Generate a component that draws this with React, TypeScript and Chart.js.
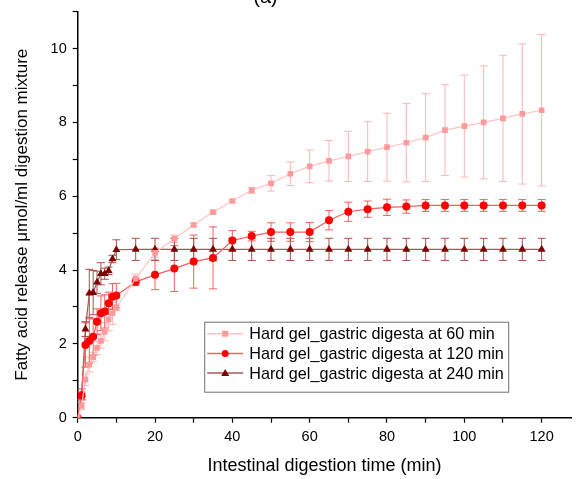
import React, { useEffect, useRef } from "react";
import { Chart, registerables } from "chart.js";

Chart.register(...registerables);

const times = [0, 1, 2, 3, 4, 5, 6, 7, 8, 9, 10, 15, 20, 25, 30, 35, 40, 45, 50, 55, 60, 65, 70, 75, 80, 85, 90, 95, 100, 105, 110, 115, 120];

const labels60 = "Hard gel_gastric digesta at 60 min";
const labels120 = "Hard gel_gastric digesta at 120 min";
const labels240 = "Hard gel_gastric digesta at 240 min";

const mean60 = [0, 0.32, 1.03, 1.44, 1.64, 1.89, 2.08, 2.33, 2.66, 2.83, 2.98, 3.77, 4.47, 4.85, 5.22, 5.57, 5.87, 6.16, 6.35, 6.61, 6.81, 6.96, 7.08, 7.21, 7.33, 7.45, 7.59, 7.79, 7.9, 8.0, 8.11, 8.23, 8.33];
const err60 = [0, 0.1, 0.15, 0.2, 0.12, 0.18, 0.2, 0.25, 0.3, 0.3, 0.08, 0.12, 0.12, 0.1, 0.05, 0.03, 0.03, 0.08, 0.21, 0.32, 0.44, 0.55, 0.68, 0.81, 0.92, 1.06, 1.19, 1.23, 1.38, 1.53, 1.71, 1.9, 2.05];

const mean120 = [0, 0.6, 1.97, 2.08, 2.19, 2.6, 2.83, 2.88, 3.1, 3.28, 3.31, 3.68, 3.87, 4.04, 4.23, 4.33, 4.8, 4.92, 5.03, 5.03, 5.03, 5.35, 5.58, 5.65, 5.7, 5.72, 5.75, 5.75, 5.75, 5.75, 5.75, 5.75, 5.75];
const err120 = [0, 0.1, 0.6, 0.6, 0.5, 0.35, 0.47, 0.45, 0.3, 0.35, 0.33, 0.1, 0.4, 0.62, 0.72, 0.84, 0.27, 0.13, 0.25, 0.25, 0.26, 0.26, 0.26, 0.22, 0.22, 0.18, 0.16, 0.16, 0.16, 0.16, 0.16, 0.16, 0.16];

const mean240 = [0, 0.63, 2.4, 3.37, 3.39, 3.67, 3.9, 3.9, 3.98, 4.3, 4.55, 4.56, 4.56, 4.56, 4.56, 4.56, 4.56, 4.56, 4.56, 4.56, 4.56, 4.56, 4.56, 4.56, 4.56, 4.56, 4.56, 4.56, 4.56, 4.56, 4.56, 4.56, 4.56];
const err240 = [0, 0.15, 0.2, 0.65, 0.6, 0.3, 0.3, 0.15, 0.1, 0.1, 0.27, 0.3, 0.3, 0.3, 0.3, 0.3, 0.3, 0.3, 0.3, 0.3, 0.3, 0.3, 0.3, 0.3, 0.3, 0.3, 0.3, 0.3, 0.3, 0.3, 0.3, 0.3, 0.3];

const FONT = "Arial, 'Liberation Sans', sans-serif";

const errorBarPlugin = {
  id: "errorBars",
  beforeDatasetsDraw(chart: any) {
    const ctx = chart.ctx;
    const y = chart.scales.y;
    chart.data.datasets.forEach((ds: any, i: number) => {
      const meta = chart.getDatasetMeta(i);
      ctx.save();
      ctx.strokeStyle = ds.errColor;
      ctx.lineWidth = 1;
      meta.data.forEach((pt: any, j: number) => {
        const e = ds.errors[j];
        if (!e) return;
        const v = ds.data[j].y;
        const top = y.getPixelForValue(v + e);
        const bot = y.getPixelForValue(v - e);
        const x = pt.x;
        ctx.beginPath();
        ctx.moveTo(x, top);
        ctx.lineTo(x, bot);
        ctx.moveTo(x - 4, top);
        ctx.lineTo(x + 4, top);
        ctx.moveTo(x - 4, bot);
        ctx.lineTo(x + 4, bot);
        ctx.stroke();
      });
      ctx.restore();
    });
  },
};

const legendPlugin = {
  id: "insideLegend",
  afterDraw(chart: any) {
    const ctx = chart.ctx;
    const ca = chart.chartArea;
    const left = ca.left + 126.5;
    const top = ca.top + 310;
    const w = 304;
    const h = 70;
    ctx.save();
    ctx.fillStyle = "#ffffff";
    ctx.fillRect(left, top, w, h);
    ctx.strokeStyle = "#707070";
    ctx.lineWidth = 1;
    ctx.strokeRect(left + 0.5, top + 0.5, w, h);
    ctx.font = "16.2px " + FONT;
    ctx.textBaseline = "middle";
    chart.data.datasets.forEach((ds: any, i: number) => {
      const cy = top + 12 + i * 19.7;
      ctx.strokeStyle = ds.borderColor;
      ctx.lineWidth = 1.5;
      ctx.beginPath();
      ctx.moveTo(left + 3, cy);
      ctx.lineTo(left + 39, cy);
      ctx.stroke();
      ctx.fillStyle = ds.pointBackgroundColor;
      ctx.beginPath();
      if (ds.pointStyle === "rect") {
        ctx.rect(left + 18, cy - 3, 6, 6);
      } else if (ds.pointStyle === "circle") {
        ctx.arc(left + 21, cy, 3.5, 0, Math.PI * 2);
      } else {
        ctx.moveTo(left + 21, cy - 4);
        ctx.lineTo(left + 25, cy + 3);
        ctx.lineTo(left + 17, cy + 3);
        ctx.closePath();
      }
      ctx.fill();
      ctx.fillStyle = "#000000";
      ctx.fillText(ds.label, left + 45, cy + 1);
    });
    ctx.restore();
  },
};

const titlePlugin = {
  id: "cutTitle",
  afterDraw(chart: any) {
    const ctx = chart.ctx;
    ctx.save();
    ctx.font = "20px " + FONT;
    ctx.fillStyle = "#000";
    ctx.textAlign = "center";
    ctx.textBaseline = "alphabetic";
    ctx.fillText("(a)", 265.5, 3);
    ctx.restore();
  },
};

export default function App() {
  const ref = useRef<HTMLCanvasElement | null>(null);
  useEffect(() => {
    document.body.style.margin = "0";
    const mk = (arr: number[]) => times.map((t, i) => ({ x: t, y: arr[i] }));
    const chart = new Chart(ref.current as HTMLCanvasElement, {
      type: "line",
      data: {
        datasets: [
          {
            label: labels60,
            data: mk(mean60),
            errors: err60,
            errColor: "#ffb5b5",
            borderColor: "#ffc4c4",
            borderWidth: 1.2,
            pointStyle: "rect",
            pointRadius: 4,
            pointBackgroundColor: "#ff9a9a",
            pointBorderWidth: 0,
            pointBorderColor: "#ff9a9a",
          } as any,
          {
            label: labels120,
            data: mk(mean120),
            errors: err120,
            errColor: "#f26262",
            borderColor: "#f26060",
            borderWidth: 1.2,
            pointStyle: "circle",
            pointRadius: 4,
            pointBackgroundColor: "#ff0000",
            pointBorderWidth: 0,
            pointBorderColor: "#ff0000",
          } as any,
          {
            label: labels240,
            data: mk(mean240),
            errors: err240,
            errColor: "#a85050",
            borderColor: "#a85858",
            borderWidth: 1.2,
            pointStyle: "triangle",
            pointRadius: 4.6,
            pointBackgroundColor: "#800000",
            pointBorderWidth: 0,
            pointBorderColor: "#800000",
          } as any,
        ],
      },
      options: {
        animation: false,
        responsive: false,
        layout: { padding: { top: 11.7, right: 0, left: 0, bottom: 2 } },
        plugins: {
          legend: { display: false },
          tooltip: { enabled: false },
        },
        scales: {
          x: {
            type: "linear",
            min: 0,
            max: 127.7,
            afterFit(scale: any) {
              scale.height = 59.3;
              scale.paddingLeft = 0;
              scale.paddingRight = 0;
            },
            border: { display: true, color: "#000", width: 1.5 },
            grid: { display: true, drawOnChartArea: false, drawTicks: true, tickLength: 5, color: "#000", tickWidth: 1.2 },
            ticks: {
              stepSize: 10,
              includeBounds: false,
              autoSkip: false,
              maxRotation: 0,
              color: "#000",
              padding: 6,
              font: { family: FONT, size: 14.5 },
              callback: (v: any) => (Number(v) % 20 === 0 ? String(v) : ""),
            },
            title: {
              display: true,
              text: "Intestinal digestion time (min)",
              color: "#000",
              font: { family: FONT, size: 18 },
              padding: { top: 0, bottom: 0 },
            },
          },
          y: {
            type: "linear",
            min: 0,
            max: 11,
            afterFit(scale: any) {
              scale.width = 77.7;
              scale.paddingTop = 0;
              scale.paddingBottom = 0;
            },
            border: { display: true, color: "#000", width: 1.5 },
            grid: { display: true, drawOnChartArea: false, drawTicks: true, tickLength: 5, color: "#000", tickWidth: 1.2 },
            ticks: {
              stepSize: 1,
              autoSkip: false,
              color: "#000",
              padding: 6,
              font: { family: FONT, size: 14.5 },
              callback: (v: any) => (Number(v) % 2 === 0 ? String(v) : ""),
            },
            title: {
              display: true,
              text: "Fatty acid release μmol/ml digestion mixture",
              color: "#000",
              font: { family: FONT, size: 17 },
              padding: { top: 12, bottom: 0 },
            },
          },
        },
      } as any,
      plugins: [errorBarPlugin, legendPlugin, titlePlugin],
    });
    return () => chart.destroy();
  }, []);
  return (
    <div style={{ width: 576, height: 479 }}>
      <canvas ref={ref} width={576} height={479} style={{ display: "block" }} />
    </div>
  );
}
